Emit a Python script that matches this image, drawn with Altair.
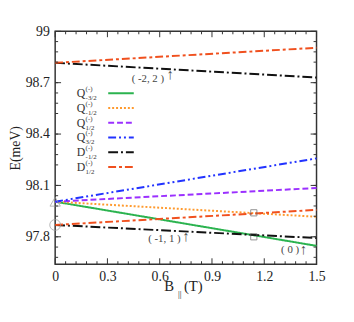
import altair as alt
import pandas as pd

# ---------------- data ----------------
B = [0.0, 1.5]
series_names = ["Q-3/2", "Q-1/2", "Q1/2", "Q3/2", "D-1/2", "D1/2"]
E_Qm32 = [98.005, 97.747]
E_Qm12 = [98.005, 97.917]
E_Qp12 = [98.005, 98.085]
E_Qp32 = [98.005, 98.258]
E_Dm12_upper = [98.816, 98.730]
E_Dp12_upper = [98.816, 98.904]
E_Dm12_lower = [97.869, 97.793]
E_Dp12_lower = [97.869, 97.957]

legend_main = ["Q", "Q", "Q", "Q", "D", "D"]
legend_sub = ["-3/2", "-1/2", "1/2", "3/2", "-1/2", "1/2"]
legend_sup = "(-)"

tri_B, tri_E = [0.0], [98.005]
circ_B, circ_E = [0.0], [97.869]
sq_B, sq_E = [1.14, 1.14], [97.94, 97.80]

ann_text = ["( -2, 2 )", "( -1, 1 )", "( 0 )"]
ann_B = [0.625, 0.72, 1.40]
ann_E = [98.724, 97.789, 97.72]
arrow_B = [0.66, 0.75, 1.425]
arrow_E = [98.753, 97.803, 97.726]

x_major = [0, 0.3, 0.6, 0.9, 1.2, 1.5]
y_major = [97.8, 98.1, 98.4, 98.7, 99.0]
x_minor = [round(0.06 * i, 2) for i in range(1, 25) if i % 5]
y_minor = [round(97.68 + 0.06 * i, 2) for i in range(0, 22) if (i + 2) % 5]

# ---------------- styles ----------------
W, H = 266, 237
SERIF = "Liberation Serif"
colors = ["#2bb34f", "#ff9a2e", "#9b30ff", "#2233ff", "#111111", "#f0501e"]
dashes = [[1, 0], [2, 2], [6, 3], [8, 3, 2, 3, 2, 3], [10, 3, 2, 3], [8, 3, 3, 3]]

xscale = alt.Scale(domain=[0, 1.5], nice=False, zero=False)
yscale = alt.Scale(domain=[97.64, 99.0], nice=False, zero=False)
xaxis = alt.Axis(values=x_major, format=".1~f", title=None, domain=False, ticks=False,
                 grid=False, labelFont=SERIF, labelFontSize=14, labelColor="#222",
                 labelPadding=6, labelFlush=False)
yaxis = alt.Axis(values=y_major, format=".1~f", title=None, domain=False, ticks=False,
                 grid=False, labelFont=SERIF, labelFontSize=14, labelColor="#222",
                 labelPadding=6)


def xenc():
    return alt.X("B:Q", scale=xscale, axis=xaxis)


def yenc():
    return alt.Y("E:Q", scale=yscale, axis=yaxis)


rows = []
for name, seg, vals in [
    ("Q-3/2", "a", E_Qm32), ("Q-1/2", "b", E_Qm12), ("Q1/2", "c", E_Qp12),
    ("Q3/2", "d", E_Qp32), ("D-1/2", "e", E_Dm12_upper), ("D1/2", "f", E_Dp12_upper),
    ("D-1/2", "g", E_Dm12_lower), ("D1/2", "h", E_Dp12_lower)]:
    for b, e in zip(B, vals):
        rows.append({"B": b, "E": e, "series": name, "seg": seg})
df = pd.DataFrame(rows)

lines = alt.Chart(df).mark_line(strokeWidth=2).encode(
    x=xenc(), y=yenc(),
    color=alt.Color("series:N", scale=alt.Scale(domain=series_names, range=colors), legend=None),
    strokeDash=alt.StrokeDash("series:N", scale=alt.Scale(domain=series_names, range=dashes), legend=None),
    detail="seg:N",
)

tri = alt.Chart(pd.DataFrame({"B": tri_B, "E": tri_E})).mark_point(
    shape="triangle-up", size=110, color="#999", strokeWidth=1).encode(x=xenc(), y=yenc())
circ = alt.Chart(pd.DataFrame({"B": circ_B, "E": circ_E})).mark_point(
    shape="circle", size=121, color="#999", strokeWidth=1).encode(x=xenc(), y=yenc())
sq = alt.Chart(pd.DataFrame({"B": sq_B, "E": sq_E})).mark_point(
    shape="square", size=40, color="#666", strokeWidth=1).encode(x=xenc(), y=yenc())

ann = alt.Chart(pd.DataFrame({"B": ann_B, "E": ann_E, "t": ann_text})).mark_text(
    align="right", baseline="middle", font=SERIF, fontSize=11, color="#444").encode(
    x=xenc(), y=yenc(), text="t:N")
arrows = alt.Chart(pd.DataFrame({"B": arrow_B, "E": arrow_E})).mark_text(
    align="center", baseline="middle", font=SERIF, fontSize=15, color="#444").encode(
    x=xenc(), y=yenc(), text=alt.value("↑"))

# inward ticks
tick_layers = []
for vals, ln in [(x_major, 6), (x_minor, 3)]:
    d = pd.DataFrame({"B": vals})
    tick_layers.append(alt.Chart(d).mark_rule(color="#333", strokeWidth=1).encode(
        x=xenc(), y=alt.value(H), y2=alt.value(H - ln)))
    tick_layers.append(alt.Chart(d).mark_rule(color="#333", strokeWidth=1).encode(
        x=xenc(), y=alt.value(0), y2=alt.value(ln)))
for vals, ln in [(y_major, 6), (y_minor, 3)]:
    d = pd.DataFrame({"E": vals})
    tick_layers.append(alt.Chart(d).mark_rule(color="#333", strokeWidth=1).encode(
        y=yenc(), x=alt.value(0), x2=alt.value(ln)))
    tick_layers.append(alt.Chart(d).mark_rule(color="#333", strokeWidth=1).encode(
        y=yenc(), x=alt.value(W), x2=alt.value(W - ln)))

one = alt.Data(values=[{"k": 1}])

# custom legend
leg_layers = []
for i in range(6):
    yc = 63 + 15 * i
    leg_layers.append(alt.Chart(one).mark_text(
        align="left", baseline="middle", font=SERIF, fontSize=12, color="#333").encode(
        x=alt.value(22), y=alt.value(yc), text=alt.value(legend_main[i])))
    leg_layers.append(alt.Chart(one).mark_text(
        align="left", baseline="middle", font=SERIF, fontSize=7, color="#333").encode(
        x=alt.value(31), y=alt.value(yc - 4), text=alt.value(legend_sup)))
    leg_layers.append(alt.Chart(one).mark_text(
        align="left", baseline="middle", font=SERIF, fontSize=7, color="#333").encode(
        x=alt.value(31), y=alt.value(yc + 5), text=alt.value(legend_sub[i])))
    leg_layers.append(alt.Chart(one).mark_rule(
        color=colors[i], strokeWidth=2, strokeDash=dashes[i]).encode(
        x=alt.value(54), x2=alt.value(80), y=alt.value(yc)))

# axis titles
titles = [
    alt.Chart(one).mark_text(angle=270, align="center", baseline="middle", font=SERIF,
                             fontSize=14, color="#222").encode(
        x=alt.value(-40), y=alt.value(119), text=alt.value("E(meV)")),
    alt.Chart(one).mark_text(align="left", baseline="middle", font=SERIF,
                             fontSize=15, color="#222").encode(
        x=alt.value(111), y=alt.value(259), text=alt.value("B")),
    alt.Chart(one).mark_text(align="left", baseline="middle", font=SERIF,
                             fontSize=9, color="#222").encode(
        x=alt.value(125), y=alt.value(267), text=alt.value("||")),
    alt.Chart(one).mark_text(align="left", baseline="middle", font=SERIF,
                             fontSize=15, color="#222").encode(
        x=alt.value(131), y=alt.value(259), text=alt.value("(T)")),
]

chart = alt.layer(lines, tri, circ, sq, ann, arrows, *tick_layers, *leg_layers, *titles).properties(
    width=W, height=H,
    autosize=alt.AutoSizeParams(type="none"),
    padding={"left": 48, "top": 21, "right": 30, "bottom": 50},
    background="white",
).configure_view(stroke="#333", strokeWidth=1.5)

chart.save("out.html", embed_options={"renderer": "svg", "actions": False})
